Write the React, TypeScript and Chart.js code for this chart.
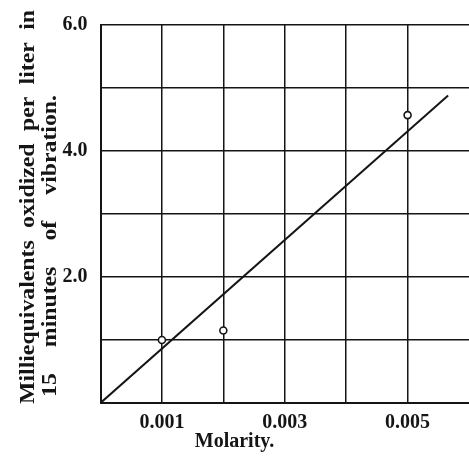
import React, { useEffect, useRef } from "react";
import { Chart, registerables } from "chart.js";

Chart.register(...registerables);

// Measured points
const molarity = [0.001, 0.002, 0.005];
const milliequivalents = [1.0, 1.15, 4.57];

// Fitted straight line
const fitMolarity = [0, 0.00566];
const fitMilliequivalents = [0, 4.88];

// Axes
const xGridValues = [0, 0.001, 0.002, 0.003, 0.004, 0.005];
const xLabelValues = [0.001, 0.003, 0.005];
const yLabelValues = [2, 4, 6];

const xTitle = "Molarity.";
const yTitleLines = ["Milliequivalents oxidized per liter in", "15 minutes of vibration."];

const FONT = '"Liberation Serif", "Times New Roman", serif';
const INK = "#151515";

const yTitlePlugin = {
  id: "yTitleJustified",
  afterDraw(chart: any) {
    const ctx = chart.ctx as CanvasRenderingContext2D;
    const stretch = 1.08;
    const specs = [
      { text: yTitleLines[0], x: 34, start: 404, end: 10 },
      { text: yTitleLines[1], x: 56, start: 397, end: 95 },
    ];
    ctx.save();
    ctx.font = `bold 22px ${FONT}`;
    ctx.fillStyle = INK;
    ctx.textBaseline = "alphabetic";
    ctx.textAlign = "left";
    for (const s of specs) {
      const words = s.text.split(" ");
      const widths = words.map((w) => ctx.measureText(w).width * stretch);
      const total = widths.reduce((a, b) => a + b, 0);
      const len = s.start - s.end;
      const gap = Math.max(4, (len - total) / (words.length - 1));
      let u = 0;
      words.forEach((w, i) => {
        ctx.save();
        ctx.translate(s.x, s.start);
        ctx.rotate(-Math.PI / 2);
        ctx.translate(u, 0);
        ctx.scale(stretch, 1);
        ctx.fillText(w, 0, 0);
        ctx.restore();
        u += widths[i] + gap;
      });
    }
    ctx.restore();
  },
};

export default function App() {
  const ref = useRef<HTMLCanvasElement>(null);
  useEffect(() => {
    if (!ref.current) return;
    const chart = new Chart(ref.current, {
      type: "scatter",
      data: {
        datasets: [
          {
            type: "line",
            data: fitMolarity.map((x, i) => ({ x, y: fitMilliequivalents[i] })),
            borderColor: INK,
            borderWidth: 2,
            pointRadius: 0,
            fill: false,
          },
          {
            data: molarity.map((x, i) => ({ x, y: milliequivalents[i] })),
            pointRadius: 3.5,
            pointBackgroundColor: "#ffffff",
            pointBorderColor: INK,
            pointBorderWidth: 1.6,
          },
        ],
      } as any,
      options: {
        animation: false,
        responsive: false,
        layout: { autoPadding: false, padding: { top: 25, right: 0, left: 0, bottom: 0 } },
        plugins: {
          legend: { display: false },
          tooltip: { enabled: false },
          title: {
            display: true,
            text: xTitle,
            position: "bottom",
            color: INK,
            font: { family: FONT, size: 20, weight: "bold" },
            padding: { top: 0, bottom: 12 },
          },
        },
        scales: {
          x: {
            type: "linear",
            min: 0,
            max: 0.006,
            afterBuildTicks: (scale: any) => {
              scale.ticks = xGridValues.map((v) => ({ value: v }));
            },
            afterFit: (scale: any) => {
              scale.height = 27;
            },
            grid: { color: INK, lineWidth: 1.5, drawTicks: false },
            border: { color: INK, width: 2 },
            ticks: {
              padding: 8,
              color: INK,
              font: { family: FONT, size: 20, weight: "bold" },
              callback: (v: any) => {
                const n = Number(v);
                return xLabelValues.some((l) => Math.abs(l - n) < 1e-9) ? n.toFixed(3) : "";
              },
            },
          },
          y: {
            type: "linear",
            min: 0,
            max: 6,
            afterFit: (scale: any) => {
              scale.width = 100.5;
            },
            grid: { color: INK, lineWidth: 1.5, drawTicks: false },
            border: { color: INK, width: 2 },
            ticks: {
              stepSize: 1,
              padding: 13,
              color: INK,
              font: { family: FONT, size: 20, weight: "bold" },
              callback: (v: any) => {
                const n = Number(v);
                return yLabelValues.includes(n) ? n.toFixed(1) : "";
              },
            },
          },
        },
      } as any,
      plugins: [yTitlePlugin],
    });
    return () => chart.destroy();
  }, []);
  return (
    <div style={{ position: "fixed", left: 0, top: 0, width: 469, height: 466, background: "#fff" }}>
      <canvas ref={ref} width={469} height={466} />
    </div>
  );
}
